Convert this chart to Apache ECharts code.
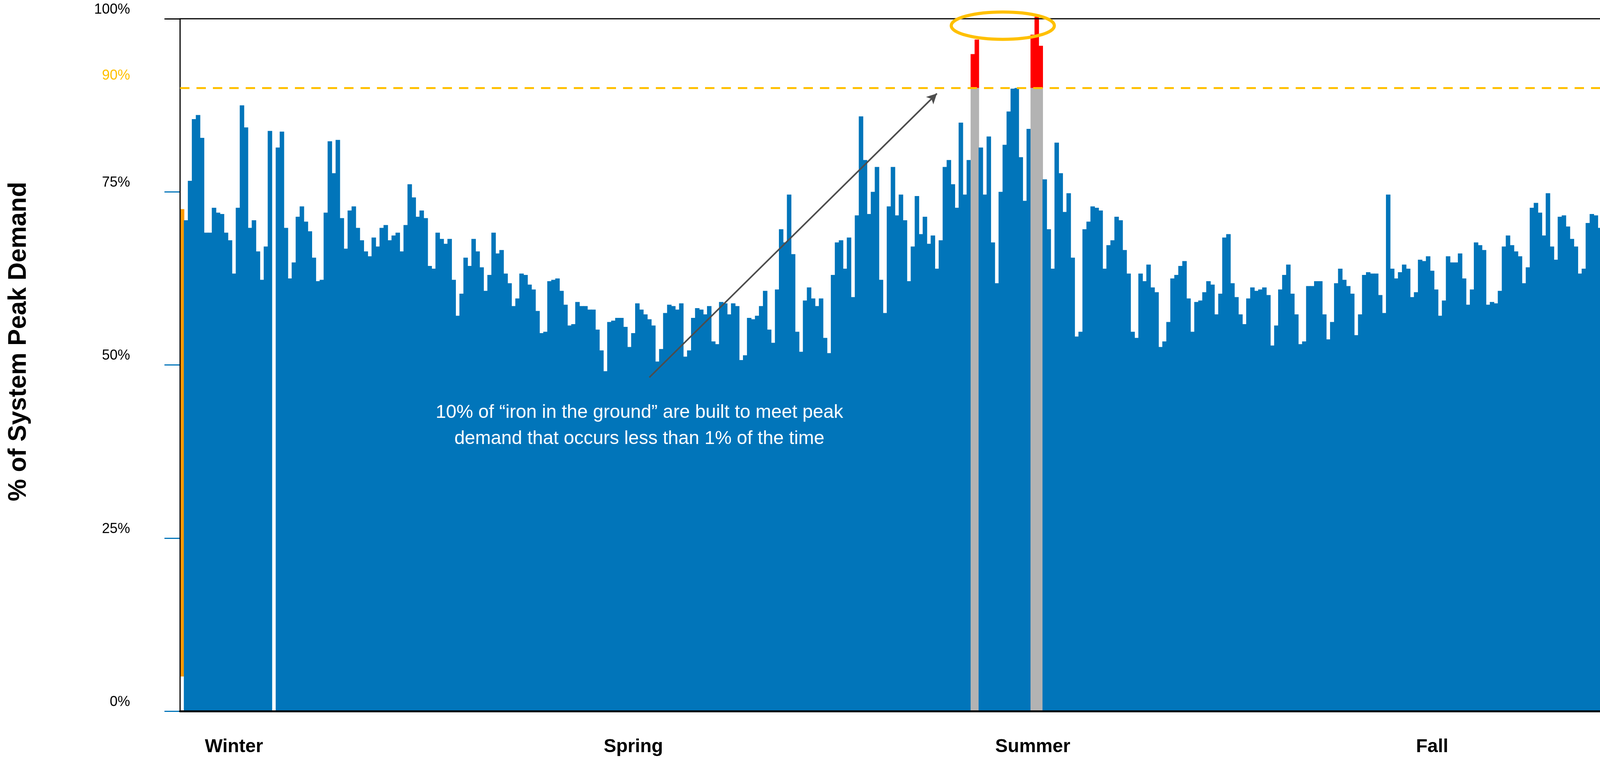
<!DOCTYPE html>
<html>
<head>
<meta charset="utf-8">
<title>% of System Peak Demand</title>
<script src="https://cdn.jsdelivr.net/npm/echarts@6/dist/echarts.min.js"></script>
<style>
  html, body { margin: 0; padding: 0; background: #ffffff; }
  #chart { width: 4205px; height: 1941px; }
</style>
</head>
<body>
<div id="chart"></div>
<script>
// ---- Data (daily load as % of system peak demand) ----
const demandPart1 = [
  72.5, 70.9, 76.6, 85.5, 86.1, 82.8, 69.1, 69.1, 72.7, 72.0,
  71.8, 69.1, 68.0, 63.2, 72.7, 87.5, 84.3, 69.8, 70.9, 66.4,
  62.3, 67.1, 83.8, 0, 81.4, 83.7, 69.8, 62.5, 64.8, 71.4,
  72.9, 70.7, 69.3, 65.5, 62.1, 62.3, 72.0, 82.3, 77.7, 82.5,
  71.2, 66.8, 72.3, 72.9, 69.8, 68.0, 66.4, 65.7, 68.4, 67.1,
  69.8, 70.2
];
const demandPart2 = [
  68.0, 68.7, 69.1, 66.4, 70.2, 76.1, 74.2, 71.4, 72.3, 71.2,
  64.3, 63.9, 69.1, 68.2, 67.5, 68.2, 62.3, 57.1, 60.3, 65.5,
  64.3, 68.2, 66.4, 64.1, 60.7, 63.0, 69.1, 66.1, 66.6, 63.2,
  61.8, 58.5, 59.6, 63.2, 63.0, 61.6, 60.9, 57.8, 54.6, 54.8,
  62.1, 62.3, 62.5, 60.7, 58.7, 55.7, 55.9, 59.1, 58.5, 58.5,
  58.0, 58.0, 55.1
];
const demandPart3 = [
  52.1, 49.1, 56.2, 56.4, 56.8, 56.8, 55.5, 52.6, 54.6, 58.9,
  58.0, 57.3, 56.6, 55.7, 50.5, 52.3, 57.5, 58.7, 58.5, 58.0,
  58.9, 51.2, 52.1, 56.8, 58.2, 58.0, 57.3, 58.5, 53.4, 53.0,
  59.1, 58.9, 57.3, 58.9, 58.5, 50.7, 51.4, 56.8, 56.6, 57.1,
  58.5, 60.7, 55.1, 53.2, 60.9, 69.6, 67.7, 74.6, 66.0, 54.8,
  51.9, 59.3
];
const demandPart4 = [
  61.2, 59.6, 58.5, 59.6, 53.9, 51.7, 63.0, 67.7, 68.0, 63.9,
  68.4, 59.8, 71.6, 85.9, 79.6, 71.8, 75.0, 78.6, 62.3, 57.5,
  72.9, 78.6, 71.6, 74.6, 70.9, 62.1, 67.1, 74.4, 68.9, 71.4,
  67.5, 68.7, 63.9, 68.0, 78.6, 79.6, 76.1, 72.7, 85.0, 74.6,
  79.6, 94.9, 97.0, 81.4, 74.6, 83.0, 67.7, 61.8, 75.0, 81.8,
  86.6, 89.9, 90.0
];
const demandPart5 = [
  80.0, 73.7, 84.1, 97.7, 100.3, 96.1, 76.8, 69.6, 63.9, 82.1,
  77.7, 72.1, 74.8, 65.5, 54.1, 54.8, 69.6, 70.7, 72.9, 72.7,
  72.3, 63.9, 67.3, 68.0, 71.4, 70.9, 66.6, 63.2, 54.8, 53.9,
  63.2, 62.1, 64.5, 61.2, 60.5, 52.6, 53.4, 56.2, 62.5, 63.0,
  64.3, 65.0, 59.6, 54.8, 59.1, 59.3, 60.5, 62.1, 61.6, 57.3,
  60.3, 68.4
];
const demandPart6 = [
  68.9, 61.8, 59.8, 57.3, 55.9, 59.6, 61.2, 60.7, 60.9, 61.2,
  60.1, 52.8, 55.7, 60.9, 63.0, 64.5, 60.3, 57.3, 53.0, 53.4,
  61.4, 61.4, 62.1, 62.1, 57.3, 53.7, 56.2, 61.8, 63.9, 62.3,
  61.4, 60.3, 54.3, 57.3, 63.0, 63.4, 63.2, 63.2, 60.1, 57.5,
  74.6, 63.9, 62.5, 63.4, 64.5, 63.9, 59.8, 60.5, 65.2, 65.0,
  65.7, 63.6
];
const demandPart7 = [
  60.9, 57.1, 59.3, 65.7, 64.8, 64.8, 66.1, 62.5, 58.7, 60.9,
  67.7, 67.3, 66.6, 58.7, 59.1, 58.9, 60.7, 67.1, 68.7, 67.3,
  66.4, 65.7, 61.8, 64.1, 72.7, 73.4, 72.0, 68.7, 74.8, 67.1,
  65.2, 71.4, 71.6, 70.0, 68.2, 67.1, 63.2, 63.9, 70.5, 71.8,
  71.6, 69.8, 68.4, 62.3, 59.8, 55.7, 66.4, 69.3, 68.4, 68.4,
  65.2, 64.5
];

const seasonNames = ['Winter', 'Spring', 'Summer', 'Fall'];
const seasonLabelDays = [13, 113, 213, 313];       // day index where each season label sits
const yTickValues = [0, 25, 50, 75, 100];
const peakLevel = 90;                               // capacity line (%)
const firstDayFloor = 5;                            // first bar floats from 5%
const arrowFrom = [117, 48.2];                      // [day index, %]
const arrowTo = [189, 89.2];
const noteDay = 114.5, noteLevel = 41.2;
const ellipseDay = 205.5, ellipseLevel = 99.0;
const noteText = '10% of \u201ciron in the ground\u201d are built to meet peak\ndemand that occurs less than 1% of the time';

// ---- Build ----
const dailyDemand = [].concat(demandPart1, demandPart2, demandPart3, demandPart4,
                              demandPart5, demandPart6, demandPart7);
const days = dailyDemand.map((v, i) => String(i + 1));

const BLUE = '#0175BA', GRAY = '#B3B3B3', RED = '#FF0000', ORANGE = '#FF9900', GOLD = '#FFC000';
const FONT = '"Liberation Sans", Arial, Helvetica, sans-serif';
const BAR_W = '112%';

const floorData = dailyDemand.map((v, i) => (i === 0 ? firstDayFloor : '-'));
const baseData = dailyDemand.map((v, i) => {
  const c = i === 0 ? ORANGE : (v > peakLevel ? GRAY : BLUE);
  return {
    value: i === 0 ? +(v - firstDayFloor).toFixed(2) : Math.min(v, peakLevel),
    itemStyle: { color: c }
  };
});
const excessData = dailyDemand.map(v => (v > peakLevel ? +(v - peakLevel).toFixed(2) : '-'));

const chart = echarts.init(document.getElementById('chart'), null, { renderer: 'canvas' });

const option = {
  animation: false,
  backgroundColor: '#ffffff',
  grid: {
    left: 461, right: 2, top: 48, bottom: 112,
    show: true, borderColor: '#000', borderWidth: 3, backgroundColor: 'transparent', z: 3
  },
  xAxis: {
    type: 'category',
    data: days,
    z: 4,
    axisLine: { show: true, lineStyle: { color: '#000', width: 5 } },
    axisTick: { show: false },
    splitLine: { show: false },
    axisLabel: {
      interval: (idx) => seasonLabelDays.indexOf(idx) !== -1,
      formatter: (val, idx) => {
        const k = seasonLabelDays.indexOf(idx);
        return k === -1 ? '' : seasonNames[k];
      },
      color: '#000', fontFamily: FONT, fontWeight: 'bold', fontSize: 48,
      lineHeight: 56, margin: 64
    }
  },
  yAxis: [
    {
      type: 'value', min: 0, max: 100, interval: 25, position: 'left',
      splitLine: { show: false },
      axisLine: { show: false },
      axisTick: {
        show: true, inside: false, length: 40,
        customValues: [0, 25, 50, 75],
        lineStyle: { color: BLUE, width: 3 }
      },
      axisLabel: {
        customValues: yTickValues,
        formatter: '{value}%',
        color: '#000', fontFamily: FONT, fontSize: 36,
        margin: 128, verticalAlign: 'bottom', lineHeight: 46
      }
    },
    {
      type: 'value', min: 0, max: 100, interval: 25, position: 'left',
      splitLine: { show: false },
      axisLine: { show: false },
      axisTick: {
        show: true, length: 40,
        customValues: [100],
        lineStyle: { color: '#000', width: 3 }
      },
      axisLabel: {
        customValues: [peakLevel],
        formatter: '{value}%',
        color: GOLD, fontFamily: FONT, fontSize: 36,
        margin: 128, verticalAlign: 'bottom', lineHeight: 62
      }
    }
  ],
  series: [
    {
      name: 'floor', type: 'bar', stack: 'd', data: floorData,
      barWidth: BAR_W, silent: true,
      itemStyle: { color: 'rgba(0,0,0,0)' }
    },
    {
      name: 'base', type: 'bar', stack: 'd', data: baseData,
      barWidth: BAR_W, silent: true,
      markLine: {
        silent: true, symbol: ['none', 'none'], label: { show: false },
        lineStyle: { color: GOLD, width: 5, type: [24, 18] },
        data: [{ yAxis: peakLevel }]
      }
    },
    {
      name: 'excess', type: 'bar', stack: 'd', data: excessData,
      barWidth: BAR_W, silent: true, clip: false,
      itemStyle: { color: RED },
      markLine: {
        silent: true,
        symbol: ['none', 'arrow'], symbolSize: [20, 26],
        label: { show: false },
        lineStyle: { color: '#4D4D4D', width: 4, type: 'solid' },
        data: [[{ coord: arrowFrom }, { coord: arrowTo }]]
      }
    }
  ]
};

chart.setOption(option);

// Annotation graphics positioned from data coordinates
function dataToPx(dayIdx, level) {
  const lo = Math.floor(dayIdx), hi = Math.ceil(dayIdx);
  const a = chart.convertToPixel({ xAxisIndex: 0, yAxisIndex: 0 }, [lo, level]);
  const b = chart.convertToPixel({ xAxisIndex: 0, yAxisIndex: 0 }, [hi, level]);
  const t = dayIdx - lo;
  return [a[0] + (b[0] - a[0]) * t, a[1]];
}
const notePx = dataToPx(noteDay, noteLevel);
const ellPx = dataToPx(ellipseDay, ellipseLevel);
const midY = chart.convertToPixel({ yAxisIndex: 0 }, 50);

chart.setOption({
  graphic: [
    {
      type: 'text', x: notePx[0], y: notePx[1], z: 10, silent: true,
      style: {
        text: noteText, fill: '#ffffff', font: '48px ' + FONT,
        align: 'center', verticalAlign: 'middle', lineHeight: 67
      }
    },
    {
      type: 'ellipse', z: 10, silent: true,
      shape: { cx: ellPx[0], cy: ellPx[1], rx: 132, ry: 35 },
      style: { fill: 'none', stroke: GOLD, lineWidth: 8 }
    },
    {
      type: 'text', x: 48, y: midY - 60, rotation: Math.PI / 2, z: 10, silent: true,
      style: {
        text: '% of System Peak Demand', fill: '#000',
        font: 'bold 64px ' + FONT, align: 'center', verticalAlign: 'middle'
      }
    }
  ]
});
</script>
</body>
</html>
